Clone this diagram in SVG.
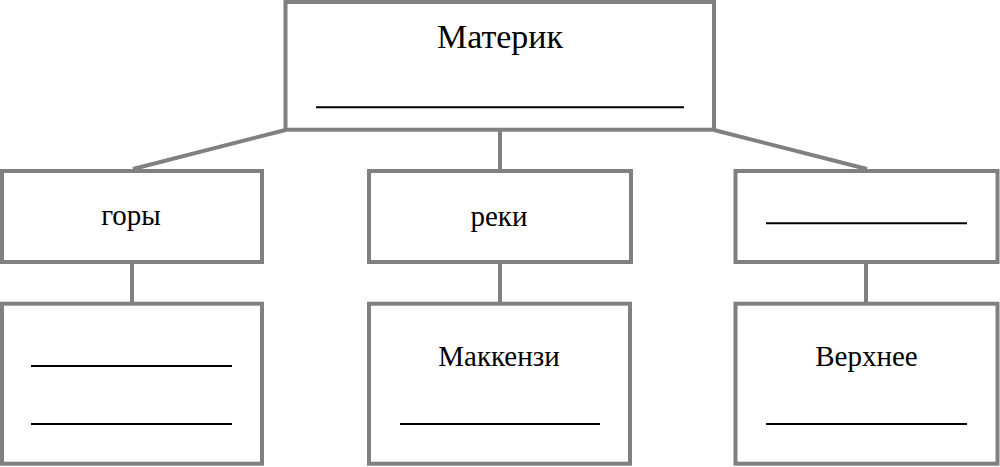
<svg xmlns="http://www.w3.org/2000/svg" width="1000" height="467" viewBox="0 0 1000 467">
<style>
.box{fill:#fff;stroke:#808080;stroke-width:4}
.conn{fill:none;stroke:#808080;stroke-width:4}
.blank{stroke:#000;stroke-width:2}
.t{font-family:'Liberation Serif','Times New Roman','DejaVu Serif',serif;font-size:29px;fill:#000;text-anchor:middle}
.big{font-size:34px}
</style>
<rect width="1000" height="467" fill="#fff"/>
<g id="connectors">
<line class="conn" x1="285.5" y1="130" x2="133" y2="169"/>
<line class="conn" x1="714" y1="130" x2="867" y2="169"/>
<line class="conn" x1="500" y1="130" x2="500" y2="170"/>
<line class="conn" x1="132" y1="262" x2="132" y2="304"/>
<line class="conn" x1="500" y1="262" x2="500" y2="304"/>
<line class="conn" x1="866" y1="262" x2="866" y2="304"/>
</g>
<g id="n-materik">
<rect class="box" x="285.5" y="2" width="428.5" height="127.7"/>
<text class="t big" x="500" y="48">Материк</text>
<line class="blank" x1="316" y1="107.3" x2="684" y2="107.3"/>
</g>
<g id="n-gory">
<rect class="box" x="2" y="171" width="260" height="91"/>
<text class="t" x="131" y="225">горы</text>
</g>
<g id="n-reki">
<rect class="box" x="369" y="171" width="262" height="91"/>
<text class="t" x="499" y="226">реки</text>
</g>
<g id="n-blank">
<rect class="box" x="735.5" y="171" width="262" height="91"/>
<line class="blank" x1="766" y1="223.3" x2="967" y2="223.3"/>
</g>
<g id="n-gory-sub">
<rect class="box" x="2" y="303.7" width="260" height="160"/>
<line class="blank" x1="31" y1="366" x2="232" y2="366"/>
<line class="blank" x1="31" y1="424" x2="232" y2="424"/>
</g>
<g id="n-mackenzie">
<rect class="box" x="369" y="303.7" width="261" height="160"/>
<text class="t" x="499" y="366">Маккензи</text>
<line class="blank" x1="400" y1="424" x2="600" y2="424"/>
</g>
<g id="n-verhnee">
<rect class="box" x="735.5" y="303.7" width="262" height="160"/>
<text class="t" x="866.5" y="366">Верхнее</text>
<line class="blank" x1="766" y1="424" x2="967" y2="424"/>
</g>
</svg>
